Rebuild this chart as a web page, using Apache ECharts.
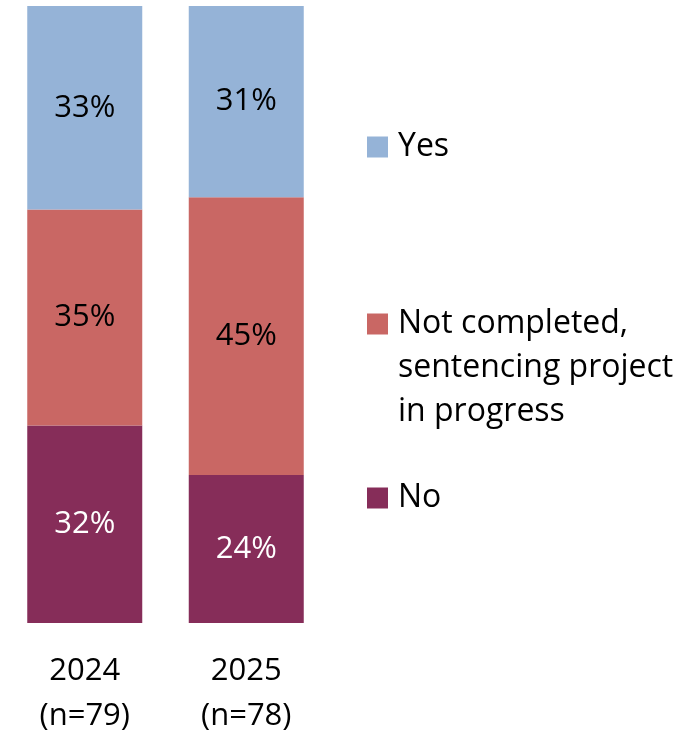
<!DOCTYPE html>
<html>
<head>
<meta charset="utf-8">
<script src="https://cdn.jsdelivr.net/npm/echarts@6/dist/echarts.min.js"></script>
<style>
  html, body { margin: 0; padding: 0; background: #fff; }
  #chart { width: 697px; height: 735px; }
</style>
</head>
<body>
<div id="chart"></div>
<script>
// Survey groups shown on the x axis
const categories = ['2024\n(n=79)', '2025\n(n=78)'];

// Share of responses per answer, in percent
const yesValues = [33, 31];
const inProgressValues = [35, 45];
const noValues = [32, 24];

const seriesNames = ['Yes', 'Not completed,\nsentencing project\nin progress', 'No'];

const FONT = '"Open Sans", "Noto Sans", sans-serif';
const colors = { yes: '#95B3D7', prog: '#C96764', no: '#862D59' };

const chart = echarts.init(document.getElementById('chart'), null, { renderer: 'canvas' });

function barSeries(name, data, color, labelColor) {
  return {
    name: name,
    type: 'bar',
    stack: 'total',
    barWidth: 115,
    data: data,
    itemStyle: { color: color },
    label: {
      show: true,
      position: 'inside',
      formatter: '{c}%',
      color: labelColor,
      fontFamily: FONT,
      fontSize: 31
    }
  };
}

// One legend block per answer; the icon sits on the first line of the text,
// so multi-line names get blank leading lines to push them down.
function legendFor(name, top, leadingLines) {
  return {
    data: [name],
    left: 367,
    top: top,
    padding: 0,
    itemWidth: 21,
    itemHeight: 21,
    itemGap: 0,
    icon: 'rect',
    selectedMode: false,
    formatter: function (n) {
      const lines = [];
      for (let i = 0; i < (leadingLines || 0); i++) lines.push('{t| }');
      n.split('\n').forEach(function (l) { lines.push('{t|' + l + '}'); });
      return lines.join('\n');
    },
    textStyle: {
      fontFamily: FONT, fontSize: 32, color: '#000', lineHeight: 44,
      rich: { t: { fontFamily: FONT, fontSize: 32, color: '#000', lineHeight: 44, padding: [0, 0, 0, 5] } }
    }
  };
}

chart.setOption({
  animation: false,
  grid: { left: 4, right: 370, top: 6, bottom: 112, containLabel: false, outerBoundsMode: 'none' },
  legend: [
    legendFor(seriesNames[0], 125, 0),
    legendFor(seriesNames[1], 214, 2),
    legendFor(seriesNames[2], 476, 0)
  ],
  xAxis: {
    type: 'category',
    data: categories,
    axisLine: { show: false },
    axisTick: { show: false },
    axisLabel: {
      color: '#000',
      fontFamily: FONT,
      fontSize: 31,
      lineHeight: 45,
      margin: 26
    }
  },
  yAxis: {
    type: 'value',
    min: 0,
    max: 100,
    show: false
  },
  series: [
    barSeries(seriesNames[2], noValues, colors.no, '#fff'),
    barSeries(seriesNames[1], inProgressValues, colors.prog, '#000'),
    barSeries(seriesNames[0], yesValues, colors.yes, '#000')
  ]
});
</script>
</body>
</html>
